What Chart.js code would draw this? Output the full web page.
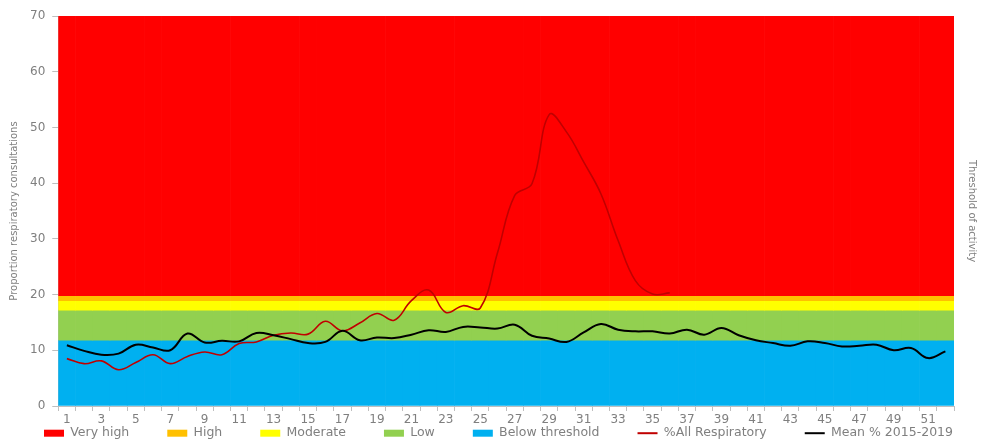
<!DOCTYPE html>
<html>
<head>
<meta charset="utf-8">
<script src="https://cdn.jsdelivr.net/npm/chart.js@4/dist/chart.umd.min.js"></script>
<style>
  html, body { margin: 0; padding: 0; background: #fff; }
  #wrap { width: 981px; height: 443px; }
</style>
</head>
<body>
<div id="wrap"><canvas id="chart"></canvas></div>
<script>
// Week numbers 1..52
const weeks = [1,2,3,4,5,6,7,8,9,10,11,12,13,14,15,16,17,18,19,20,21,22,23,24,25,26,
  27,28,29,30,31,32,33,34,35,36,37,38,39,40,41,42,43,44,45,46,47,48,49,50,51,52];

// % of consultations for all respiratory (current season, stops at week 36)
const allRespiratory = [8.5,7.6,8.1,6.5,7.8,9.2,7.6,8.9,9.7,9.2,11.2,11.5,12.7,13.1,12.9,15.2,
  13.5,14.9,16.6,15.4,18.9,20.8,16.8,18.0,17.6,27.5,37.8,39.9,52.3,49.2,43.8,38.1,29.7,22.5,
  20.1,20.3,null,null,null,null,null,null,null,null,null,null,null,null,null,null,null,null];

// Mean % 2015-2019
const mean2015to2019 = [10.9,9.9,9.2,9.4,11.0,10.5,10.0,13.0,11.4,11.7,11.6,13.1,12.7,12.0,11.3,
  11.5,13.5,11.8,12.3,12.2,12.8,13.6,13.3,14.2,14.1,13.9,14.6,12.6,12.1,11.5,13.2,14.7,13.7,
  13.4,13.4,13.0,13.7,12.8,14.0,12.7,11.8,11.3,10.8,11.6,11.3,10.7,10.8,11.0,10.0,10.4,8.6,9.8];

// Activity threshold bands (lower / upper limit)
const bandNames = ['Very high', 'High', 'Moderate', 'Low', 'Below threshold'];
const bandColors = ['#ff0000', '#ffc000', '#ffff00', '#92d050', '#00b0f0'];
const bandLower = [19.8, 18.9, 17.2, 11.8, 0];
const bandUpper = [70, 19.8, 18.9, 17.2, 11.8];

const grey = '#7f7f7f';
const axisGrey = '#bfbfbf';
Chart.defaults.font.family = '"DejaVu Sans", sans-serif';
Chart.defaults.font.size = 12;
Chart.defaults.color = grey;

// legend: wide spacing between items but kept on one short row
const legendFit = {
  id: 'legendFit',
  beforeLayout(chart) {
    const lg = chart.legend;
    if (lg && !lg._fitPatched) {
      const fit = lg.fit;
      lg.fit = function () {
        const mw = this.maxWidth;
        this.maxWidth = mw + 60;
        fit.call(this);
        this.maxWidth = mw;
        this.width = mw;
        this.height = 13.6;
      };
      lg._fitPatched = true;
    }
  },
  afterLayout(chart) {
    const lg = chart.legend;
    const pad = lg.options.labels.padding;
    const itemHeight = lg.options.labels.font.size;
    lg.top -= pad - (lg.height - itemHeight) / 2 + 3;
    // room for the row to be drawn in one line, nudged a little right
    lg.left -= 9;
    lg.right += 23;
  }
};

const bandDatasets = bandNames.map((name, b) => ({
  type: 'bar',
  label: name,
  data: weeks.map(() => [bandLower[b], bandUpper[b]]),
  backgroundColor: bandColors[b],
  borderWidth: 0,
  barPercentage: 1,
  categoryPercentage: 1,
  grouped: false,
  order: 2
}));

new Chart(document.getElementById('chart'), {
  type: 'bar',
  data: {
    labels: weeks,
    datasets: [
      ...bandDatasets,
      {
        type: 'line',
        label: '%All Respiratory',
        data: allRespiratory,
        borderColor: '#c00000',
        backgroundColor: '#c00000',
        borderWidth: 1.6,
        pointRadius: 0,
        tension: 0.4,
        spanGaps: false,
        order: 1
      },
      {
        type: 'line',
        label: 'Mean % 2015-2019',
        data: mean2015to2019,
        borderColor: '#000000',
        backgroundColor: '#000000',
        borderWidth: 2,
        pointRadius: 0,
        tension: 0.4,
        order: 0
      }
    ]
  },
  plugins: [legendFit],
  options: {
    responsive: true,
    maintainAspectRatio: false,
    animation: false,
    layout: { padding: { left: 4, right: 2, top: 16, bottom: 0 } },
    plugins: {
      tooltip: { enabled: false },
      legend: {
        position: 'bottom',
        labels: {
          usePointStyle: true,
          pointStyleWidth: 20,
          boxHeight: 7,
          padding: 38,
          color: grey,
          font: { size: 12.5 },
          generateLabels: chart => chart.data.datasets.map((ds, i) => ({
            text: ds.label,
            fillStyle: ds.backgroundColor,
            strokeStyle: ds.type === 'line' ? ds.borderColor : ds.backgroundColor,
            lineWidth: ds.type === 'line' ? 2 : 0,
            pointStyle: ds.type === 'line' ? 'line' : 'rect',
            fontColor: grey,
            hidden: false,
            datasetIndex: i
          }))
        }
      }
    },
    scales: {
      x: {
        offset: true,
        grid: { offset: true, drawOnChartArea: false, drawTicks: true, tickLength: 5, color: axisGrey },
        border: { color: axisGrey },
        ticks: {
          autoSkip: false,
          maxRotation: 0,
          padding: 2,
          callback: (v, i) => (i % 2 === 0 ? weeks[i] : '')
        }
      },
      y: {
        min: 0,
        max: 70,
        grid: { drawOnChartArea: false, tickLength: 6, color: axisGrey },
        border: { color: axisGrey },
        ticks: { stepSize: 10, padding: 7 },
        title: { display: true, text: 'Proportion respiratory consultations', color: grey, font: { size: 10 }, padding: { top: 4, bottom: 3 } }
      },
      y2: {
        position: 'right',
        min: 0,
        max: 70,
        grid: { display: false },
        border: { display: false },
        ticks: { display: false },
        title: { display: true, text: 'Threshold of activity', color: grey, font: { size: 10 }, padding: { top: 1, bottom: 4 } }
      }
    }
  }
});
</script>
</body>
</html>
